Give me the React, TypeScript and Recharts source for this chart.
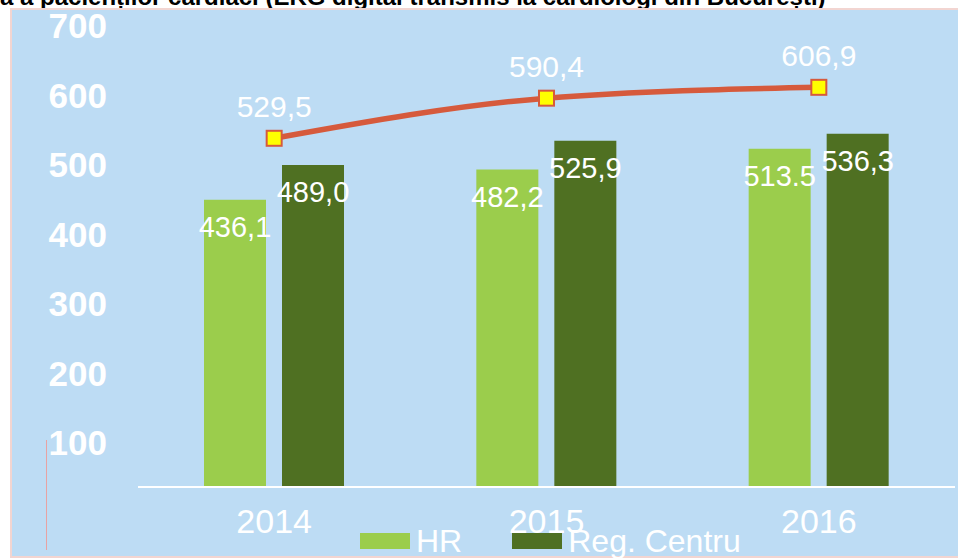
import React from "react";
import { ComposedChart, Bar, Line, XAxis, YAxis, LabelList } from "recharts";

const titleText = "a a pacienților cardiaci (EKG digital transmis la cardiologi din București)";
const years = ["2014", "2015", "2016"];
const hrValues = [436.1, 482.2, 513.5];
const regValues = [489.0, 525.9, 536.3];
const lineValues = [529.5, 590.4, 606.9];
const hrLabels = ["436,1", "482,2", "513.5"];
const regLabels = ["489,0", "525,9", "536,3"];
const lineLabels = ["529,5", "590,4", "606,9"];
const yTicks = [100, 200, 300, 400, 500, 600, 700];
const seriesNames = ["HR", "Reg. Centru", "Total"];

const HR_COLOR = "#9BCD4C";
const REG_COLOR = "#4F7022";
const LINE_COLOR = "#D65A3C";
const BG = "#BDDCF4";
const FONT = "'Liberation Sans', Arial, sans-serif";

const data = years.map((y, i) => ({
  year: y,
  hr: hrValues[i],
  reg: regValues[i],
  total: lineValues[i],
  hrLabel: hrLabels[i],
  regLabel: regLabels[i],
  totalLabel: lineLabels[i],
}));

const getBox = (p: any) => {
  const vb = p.viewBox || {};
  return {
    x: p.x ?? vb.x,
    y: p.y ?? vb.y,
    width: p.width ?? vb.width ?? 0,
  };
};

const BarLabel = (p: any) => {
  const b = getBox(p);
  return (
    <text
      x={b.x + b.width / 2}
      y={b.y + 27}
      dy="0.355em"
      textAnchor="middle"
      fill="#FFFFFF"
      fontSize={29}
      fontFamily={FONT}
    >
      {p.value}
    </text>
  );
};

const LineLabel = (p: any) => {
  const b = getBox(p);
  return (
    <text
      x={b.x}
      y={b.y - 32}
      dy="0.355em"
      textAnchor="middle"
      fill="#FFFFFF"
      fontSize={30}
      fontFamily={FONT}
    >
      {p.value}
    </text>
  );
};

const SquareDot = (p: any) => {
  const { cx, cy } = p;
  if (cx == null || cy == null) return null;
  return (
    <rect
      key={`d-${p.index}`}
      x={cx - 7.5}
      y={cy - 7.5}
      width={15}
      height={15}
      fill="#FFFF00"
      stroke={LINE_COLOR}
      strokeWidth={2}
    />
  );
};

export default function App() {
  return (
    <div
      style={{
        position: "absolute",
        left: 0,
        top: 0,
        width: 958,
        height: 558,
        overflow: "hidden",
        background: "#FFFFFF",
        fontFamily: FONT,
      }}
    >
      <div
        style={{
          position: "absolute",
          left: 0,
          top: -15,
          fontSize: 24,
          lineHeight: "24px",
          fontWeight: "bold",
          color: "#000",
          whiteSpace: "nowrap",
          fontFamily: FONT,
        }}
      >
        {titleText}
      </div>
      <div
        style={{
          position: "absolute",
          left: 10,
          top: 8,
          width: 946,
          height: 546,
          background: BG,
          border: "2px solid #F2D5D1",
        }}
      />
      <div
        style={{
          position: "absolute",
          left: 46,
          top: 440,
          width: 1,
          height: 110,
          background: "#E8A3A3",
        }}
      />
      <div style={{ position: "absolute", left: 0, top: 0 }}>
        <ComposedChart
          width={958}
          height={558}
          data={data}
          margin={{ top: 26, right: 3, bottom: 31, left: 0 }}
          barGap={16}
        >
          <XAxis
            dataKey="year"
            height={40}
            tickLine={false}
            tickSize={0}
            tickMargin={22}
            axisLine={{ stroke: "#FFFFFF", strokeWidth: 2 }}
            tick={{ fill: "#FFFFFF", fontSize: 34, fontFamily: FONT }}
            interval={0}
          />
          <YAxis yAxisId="main" domain={[0, 700]} hide allowDataOverflow />
          <YAxis
            yAxisId="labels"
            width={138}
            domain={[36.7, 700]}
            ticks={yTicks}
            allowDataOverflow
            axisLine={false}
            tickLine={false}
            tickSize={0}
            tickMargin={31}
            interval={0}
            tick={{ fill: "#FFFFFF", fontSize: 35, fontWeight: "bold", fontFamily: FONT }}
          />
          <Bar
            yAxisId="main"
            dataKey="hr"
            name={seriesNames[0]}
            fill={HR_COLOR}
            barSize={62}
            isAnimationActive={false}
          >
            <LabelList dataKey="hrLabel" content={BarLabel} />
          </Bar>
          <Bar
            yAxisId="main"
            dataKey="reg"
            name={seriesNames[1]}
            fill={REG_COLOR}
            barSize={62}
            isAnimationActive={false}
          >
            <LabelList dataKey="regLabel" content={BarLabel} />
          </Bar>
          <Line
            yAxisId="main"
            type="monotone"
            dataKey="total"
            name={seriesNames[2]}
            stroke={LINE_COLOR}
            strokeWidth={5.5}
            dot={SquareDot}
            activeDot={false}
            isAnimationActive={false}
          >
            <LabelList dataKey="totalLabel" content={LineLabel} />
          </Line>
        </ComposedChart>
      </div>
      <div
        style={{
          position: "absolute",
          left: 360,
          top: 523,
          display: "flex",
          alignItems: "center",
          color: "#FFFFFF",
          fontSize: 32,
          fontFamily: FONT,
          whiteSpace: "nowrap",
        }}
      >
        {[HR_COLOR, REG_COLOR].map((c, i) => (
          <div key={i} style={{ display: "flex", alignItems: "center", marginRight: i === 0 ? 50 : 0 }}>
            <div style={{ width: 50, height: 16, background: c, marginRight: 6, marginTop: 0 }} />
            <span style={{ lineHeight: "36px" }}>{seriesNames[i]}</span>
          </div>
        ))}
      </div>
    </div>
  );
}
